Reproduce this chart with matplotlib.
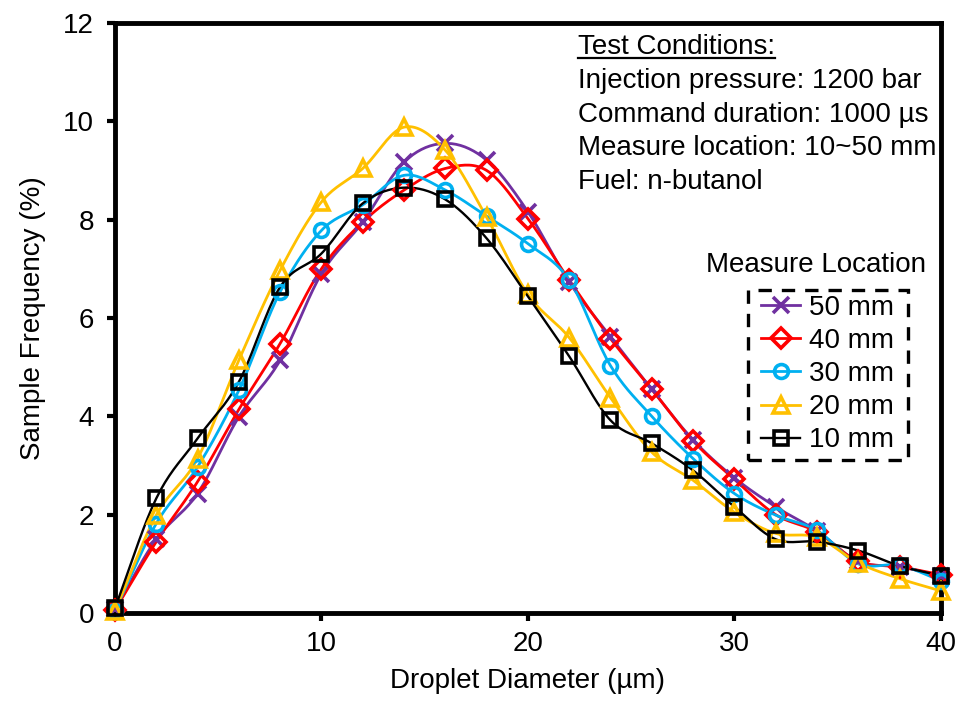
import numpy as np
import matplotlib
matplotlib.use("Agg")
import matplotlib.pyplot as plt
from matplotlib.lines import Line2D
from matplotlib.patches import Rectangle

plt.rcParams['font.family'] = ['Liberation Sans', 'DejaVu Sans']

# Droplet diameter (um)
diameter = [0, 2, 4, 6, 8, 10, 12, 14, 16, 18, 20, 22, 24, 26, 28, 30, 32, 34, 36, 38, 40]

# Sample frequency (%) per measure location
freq_50mm = [0.08, 1.5, 2.43, 3.99, 5.14, 6.9, 7.95, 9.17, 9.55, 9.21, 8.16, 6.73, 5.62, 4.55, 3.52, 2.75, 2.16, 1.67, 1.05, 0.94, 0.76]
freq_40mm = [0.06, 1.45, 2.67, 4.14, 5.48, 7.0, 7.95, 8.6, 9.04, 9.0, 8.02, 6.77, 5.58, 4.55, 3.5, 2.72, 2.0, 1.65, 1.05, 0.94, 0.78]
freq_30mm = [0.05, 1.82, 2.97, 4.53, 6.53, 7.78, 8.3, 8.9, 8.6, 8.07, 7.51, 6.77, 5.03, 4.0, 3.14, 2.43, 1.99, 1.68, 1.0, 0.97, 0.66]
freq_20mm = [0.05, 1.99, 3.14, 5.14, 6.97, 8.36, 9.04, 9.88, 9.41, 8.05, 6.48, 5.6, 4.38, 3.27, 2.7, 2.05, 1.62, 1.54, 1.02, 0.7, 0.45]
freq_10mm = [0.1, 2.33, 3.55, 4.7, 6.63, 7.31, 8.33, 8.65, 8.41, 7.62, 6.44, 5.22, 3.92, 3.45, 2.9, 2.16, 1.5, 1.45, 1.27, 0.96, 0.76]

labels = ['50 mm', '40 mm', '30 mm', '20 mm', '10 mm']
colors = ['#7030A0', '#FF0000', '#00B0F0', '#FFC000', '#000000']
markers = ['x', 'D', 'o', '^', 's']
msizes = [11, 10.5, 10, 12, 10]
series = [freq_50mm, freq_40mm, freq_30mm, freq_20mm, freq_10mm]

conditions = ['Injection pressure: 1200 bar',
              'Command duration: 1000 \u00b5s',
              'Measure location: 10~50 mm',
              'Fuel: n-butanol']


def smooth(x, y, n=20):
    # Catmull-Rom curve through the points, like Excel's smoothed lines
    p = np.column_stack([x, y]).astype(float)
    p = np.vstack([2 * p[0] - p[1], p, 2 * p[-1] - p[-2]])
    t = np.linspace(0, 1, n)[:, None]
    out = []
    for i in range(1, len(p) - 2):
        p0, p1, p2, p3 = p[i - 1], p[i], p[i + 1], p[i + 2]
        seg = 0.5 * ((2 * p1) + (-p0 + p2) * t + (2 * p0 - 5 * p1 + 4 * p2 - p3) * t ** 2
                     + (-p0 + 3 * p1 - 3 * p2 + p3) * t ** 3)
        out.append(seg if i == 1 else seg[1:])
    out = np.vstack(out)
    return out[:, 0], out[:, 1]


fig = plt.figure(figsize=(9.62, 7.11), dpi=100)
ax = fig.add_axes([0.1195, 0.1378, 0.8585, 0.83])

handles = []
for y, c, m, ms, lab in zip(series, colors, markers, msizes, labels):
    lw = 1.7 if c == '#000000' else 2.0
    sx, sy = smooth(diameter, y)
    ax.plot(sx, sy, color=c, lw=lw, zorder=2)
    ax.plot(diameter, y, linestyle='none', marker=m, markersize=ms, mec=c, mfc='none',
            mew=2.6, zorder=3, clip_on=False)
    handles.append(Line2D([], [], color=c, lw=lw, marker=m, markersize=ms, mec=c,
                          mfc='none', mew=2.6))

ax.set_xlim(0, 40)
ax.set_ylim(0, 12)
ax.set_xticks([0, 10, 20, 30, 40])
ax.set_yticks(range(0, 13, 2))
ax.tick_params(direction='out', length=6, width=3, labelsize=20)
ax.tick_params(axis='x', pad=7)
ax.tick_params(axis='y', pad=9)
for s in ax.spines.values():
    s.set_linewidth(3.5)

ax.set_xlabel('Droplet Diameter (\u00b5m)', fontsize=20, labelpad=8)
ax.set_ylabel('Sample Frequency (%)', fontsize=20, labelpad=12)

# legend without its own frame; dashed box drawn around it
leg = ax.legend(handles, labels, loc='upper left', bbox_to_anchor=(0.776, 0.549),
                fontsize=20, frameon=False, handlelength=1.4,
                handletextpad=0.3, labelspacing=0.26, borderpad=0.2, borderaxespad=0)
ax.add_patch(Rectangle((0.766, 0.259), 0.194, 0.288, transform=ax.transAxes,
                       fill=False, edgecolor='black', lw=2.4, ls=(0, (4, 3)), zorder=5))
ax.text(0.849, 0.590, 'Measure Location', transform=ax.transAxes, fontsize=20,
        ha='center', va='center')

# Test conditions block
head = ax.text(0.5605, 0.959, 'Test Conditions:', transform=ax.transAxes, fontsize=20,
               ha='left', va='center')
for i, line in enumerate(conditions):
    ax.text(0.5605, 0.959 - 0.0572 * (i + 1), line, transform=ax.transAxes, fontsize=20,
            ha='left', va='center')

fig.canvas.draw()
bb = head.get_window_extent().transformed(ax.transAxes.inverted())
ax.add_line(Line2D([bb.x0, bb.x1], [bb.y0 + 0.003, bb.y0 + 0.003], transform=ax.transAxes,
                   color='black', lw=1.6))

fig.savefig('out.png', dpi=100)
